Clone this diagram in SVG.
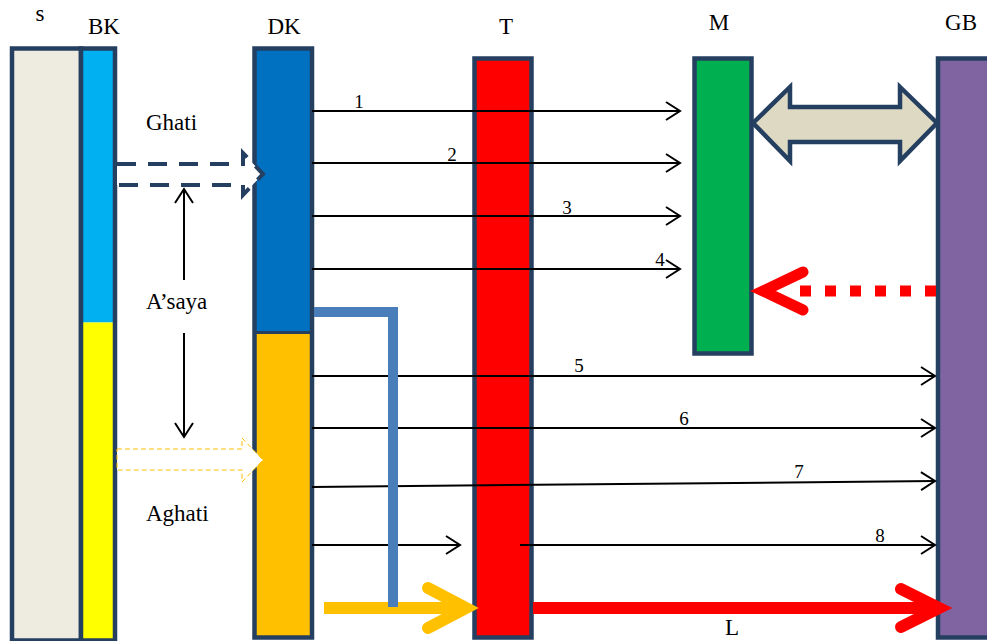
<svg xmlns="http://www.w3.org/2000/svg" width="987" height="641" viewBox="0 0 987 641">
<style>
.box{stroke:#243F60;stroke-width:4.5}
.t{font-family:"Liberation Serif",serif;font-size:23px;fill:#000;text-anchor:middle}
.l{font-family:"Liberation Serif",serif;font-size:23px;fill:#000}
.n{font-family:"Liberation Serif",serif;font-size:19px;fill:#000;text-anchor:middle}
.ln{stroke:#000;stroke-width:2;fill:none}
</style>
<defs>
<marker id="ah" markerWidth="20" markerHeight="20" refX="17" refY="10" orient="auto" markerUnits="userSpaceOnUse">
<path d="M3,1 L17,10 L3,19" fill="none" stroke="#000" stroke-width="2"/>
</marker>
</defs>
<rect width="987" height="641" fill="#fff"/>
<g id="S"><rect class="box" x="12" y="48.5" width="69" height="592" fill="#EEECE1"/></g>
<g id="BK">
<rect x="81" y="48.5" width="34" height="274" fill="#00B0F0"/>
<rect x="81" y="322.5" width="34" height="318" fill="#FFFF00"/>
<rect class="box" x="81" y="48.5" width="34" height="592" fill="none"/>
</g>
<g id="DK">
<rect x="254.5" y="48.5" width="57.5" height="284" fill="#0070C0"/>
<rect x="254.5" y="332.5" width="57.5" height="305" fill="#FFC000"/>
<rect class="box" x="254.5" y="48.5" width="57.5" height="589" fill="none"/>
<line x1="254.5" y1="332.5" x2="312" y2="332.5" stroke="#243F60" stroke-width="3"/>
</g>
<g id="T"><rect class="box" x="474.5" y="58.5" width="57" height="579" fill="#FF0000"/></g>
<g id="M"><rect class="box" x="694.5" y="58.5" width="57" height="295" fill="#00B050"/></g>
<g id="GB"><rect class="box" x="938" y="58.5" width="60" height="579" fill="#8064A2"/></g>
<g id="labels">
<text class="t" x="40" y="21">s</text>
<text class="t" x="104" y="34">BK</text>
<text class="t" x="284" y="34">DK</text>
<text class="t" x="506" y="34">T</text>
<text class="t" x="719" y="30">M</text>
<text class="t" x="961" y="30">GB</text>
<text class="l" x="146" y="130">Ghati</text>
<text class="l" x="146" y="309">A’saya</text>
<text class="l" x="146" y="521">Aghati</text>
<text class="t" x="732" y="635">L</text>
</g>
<g id="connectors">
<path d="M117,164 H243 V153 L263,174 L243,195 V185 H117" fill="#fff" stroke="#243F60" stroke-width="4" stroke-dasharray="19,12"/>
<path d="M117,449 H242 V438 L263,460 L242,482 V470 H117 Z" fill="#fff" stroke="#FFC000" stroke-width="1" stroke-dasharray="5,3"/>
<line class="ln" x1="184" y1="280" x2="184" y2="189" marker-end="url(#ah)"/>
<line class="ln" x1="184" y1="333" x2="184" y2="437" marker-end="url(#ah)"/>
<line class="ln" x1="312" y1="111" x2="680" y2="111" marker-end="url(#ah)"/>
<line class="ln" x1="312" y1="163" x2="680" y2="163" marker-end="url(#ah)"/>
<line class="ln" x1="312" y1="216" x2="680" y2="216" marker-end="url(#ah)"/>
<line class="ln" x1="312" y1="269" x2="680" y2="269" marker-end="url(#ah)"/>
<line class="ln" x1="312" y1="376" x2="935" y2="376" marker-end="url(#ah)"/>
<line class="ln" x1="312" y1="428" x2="935" y2="428" marker-end="url(#ah)"/>
<line class="ln" x1="312" y1="487" x2="935" y2="481" marker-end="url(#ah)"/>
<line class="ln" x1="312" y1="545" x2="460" y2="545" marker-end="url(#ah)"/>
<line class="ln" x1="520" y1="545" x2="935" y2="545" marker-end="url(#ah)"/>
<path d="M753,123 L790,87 V107 H900 V87 L937,123 L900,161 V142 H790 V161 Z" fill="#DDD9C3" stroke="#243F60" stroke-width="4.5" stroke-linejoin="miter"/>
<line x1="936" y1="291" x2="790" y2="291" stroke="#FF0000" stroke-width="11" stroke-dasharray="11,14"/>
<path d="M803,272 L763,291 L803,310" fill="none" stroke="#FF0000" stroke-width="11" stroke-linecap="round" stroke-linejoin="miter"/>
<path d="M324,608 H462" stroke="#FFC000" stroke-width="12" fill="none"/>
<path d="M428,588 L466,608 L428,628" fill="none" stroke="#FFC000" stroke-width="12" stroke-linecap="round"/>
<path d="M314,312 H393 V607" fill="none" stroke="#4A7EBB" stroke-width="10"/>
<path d="M533,608 H934" stroke="#FF0000" stroke-width="12" fill="none"/>
<path d="M901,589 L939,608 L901,627" fill="none" stroke="#FF0000" stroke-width="12" stroke-linecap="round"/>
</g>
<g id="numbers">
<text class="n" x="359" y="108">1</text>
<text class="n" x="452" y="161">2</text>
<text class="n" x="567" y="214">3</text>
<text class="n" x="660" y="266">4</text>
<text class="n" x="579" y="372">5</text>
<text class="n" x="684" y="425">6</text>
<text class="n" x="799" y="478">7</text>
<text class="n" x="880" y="542">8</text>
</g>
</svg>
